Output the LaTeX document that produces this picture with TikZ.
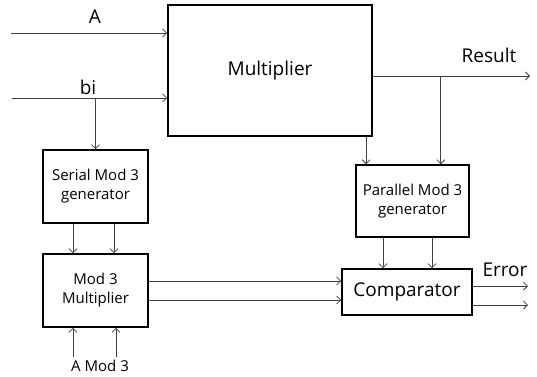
\documentclass[tikz,border=0pt]{standalone}
\usepackage{fontspec}
\setmainfont{Open Sans}
\usetikzlibrary{arrows.meta, positioning}

\begin{document}
\begin{tikzpicture}[
			x=1pt, y=-1pt,
			box/.style={
				draw=black,
				line width=1.6pt,
				align=center,
				inner sep=2pt
			},
			arr/.style={-{Straight Barb[length=4pt,width=8pt]}, line width=0.8pt, draw=black!75},
			big/.style={font=\fontsize{19}{23}\selectfont},
			small/.style={font=\fontsize{15}{19}\selectfont, align=center}
			]
			
			\useasboundingbox (0,0) rectangle (537,376);
			
			\node[box, big, minimum width=204pt, minimum height=131pt] (mult) at (270,70.5) {\raisebox{-6pt}{Multiplier}};
			\node[box, small, minimum width=105pt, minimum height=73pt] (serial) at (95.5,186.5) {Serial Mod 3\\generator};
			\node[box, small, minimum width=105pt, minimum height=73pt] (modmul) at (95.5,290.5) {Mod 3\\Multiplier};
			\node[box, small, minimum width=113pt, minimum height=72pt] (parallel) at (412.5,201) {Parallel Mod 3\\generator};
			\node[box, big, minimum width=130pt, minimum height=46pt] (comp) at (407,292) {Comparator};
			
			\node[big] (lblA) at (95,17) {A};
			\node[big] (lblbi) at (88,87) {bi};
			\node[big] (lblres) at (489,55) {Result};
			\node[big] (lblerr) at (505,270) {Error};
			\node[small] (amod) at (100,366) {A Mod 3};
			
			\coordinate (ain) at (11,33);
			\coordinate (bin) at (12,98);
			\coordinate (res) at (530,76);
			\coordinate (err1) at (528,286);
			\coordinate (err2) at (528,305);
			
			\draw[arr] (ain) -- (ain -| mult.west);
			\draw[arr] (bin) -- (bin -| mult.west);
			\draw[arr] (serial.north |- bin) -- (serial.north);
			\draw[arr] (mult.east |- res) -- (res);
			\draw[arr] ([xshift=-29pt]parallel.north east |- res) -- ([xshift=-29pt]parallel.north east);
			\draw[arr] ([xshift=11pt]parallel.north west |- mult.south) -- ([xshift=11pt]parallel.north west);
			
			\draw[arr] ([xshift=-22.5pt]serial.south) -- ([xshift=-22.5pt]modmul.north);
			\draw[arr] ([xshift=18.5pt]serial.south) -- ([xshift=18.5pt]modmul.north);
			\draw[arr] ([xshift=-22.5pt]modmul.south |- amod.north) -- ([xshift=-22.5pt]modmul.south);
			\draw[arr] ([xshift=20.5pt]modmul.south |- amod.north) -- ([xshift=20.5pt]modmul.south);
			
			\draw[arr] ([yshift=9.5pt]modmul.east) -- ([yshift=9.5pt]modmul.east -| comp.west);
			\draw[arr] ([yshift=-9.5pt]modmul.east) -- ([yshift=-9.5pt]modmul.east -| comp.west);
			\draw[arr] ([xshift=-29.5pt]parallel.south) -- ([xshift=-29.5pt]parallel.south |- comp.north);
			\draw[arr] ([xshift=19.5pt]parallel.south) -- ([xshift=19.5pt]parallel.south |- comp.north);
			\draw[arr] (comp.east |- err1) -- (err1);
			\draw[arr] (comp.east |- err2) -- (err2);
			
		\end{tikzpicture}
\end{document}
